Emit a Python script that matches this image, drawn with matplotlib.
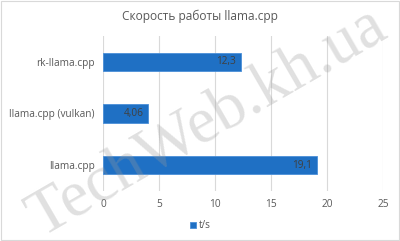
import matplotlib.pyplot as plt
from matplotlib.patches import Rectangle

# data (Excel draws the first category at the bottom)
categories = ["llama.cpp", "llama.cpp (vulkan)", "rk-llama.cpp"]
speeds = [19.1, 4.06, 12.3]
value_labels = ["19,1", "4,06", "12,3"]
x_ticks = [0, 5, 10, 15, 20, 25]

BLUE = "#1f70c4"
GREY = "#595959"

plt.rcParams["font.family"] = ["Open Sans", "DejaVu Sans"]

fig = plt.figure(figsize=(4.0, 2.41), dpi=100)
ax = fig.add_axes([103 / 400, 1 - 191 / 241, 280 / 400, 155 / 241])

bars = ax.barh(categories, speeds, height=0.36, color=BLUE,
               edgecolor="#4a8fd8", linewidth=0.6, zorder=2, label="t/s")
for bar, txt in zip(bars, value_labels):
    ax.text(bar.get_width() - 0.4, bar.get_y() + bar.get_height() / 2, txt,
            ha="right", va="center", fontsize=7.2, color="#404040", zorder=3)

ax.set_xlim(0, 25)
ax.set_ylim(-0.5, 2.5)
ax.set_xticks(x_ticks)
ax.xaxis.grid(True, color="#d9d9d9", linewidth=0.8, zorder=0)
ax.set_axisbelow(True)
for s in ax.spines.values():
    s.set_visible(False)
ax.tick_params(length=0, labelsize=7.3, colors=GREY, pad=6)

fig.text(0.5, 1 - 16 / 241, "Скорость работы llama.cpp", ha="center",
         va="center", fontsize=8.6, color=GREY)

fig.legend(handles=[bars], labels=["t/s"], loc="center",
           bbox_to_anchor=(0.5, 1 - 226 / 241), frameon=False, fontsize=7.2,
           handlelength=0.6, handleheight=0.6, handletextpad=0.3,
           labelcolor=GREY)

# watermark
fig.text(0.52, 0.49, "TechWeb.kh.ua", ha="center", va="center", rotation=30,
         fontsize=47, family="Liberation Serif", color="#9a9a9a", alpha=0.3,
         zorder=10)

# thin frame round the chart
fig.patches.append(Rectangle((0.002, 0.003), 0.995, 0.993, transform=fig.transFigure,
                             fill=False, edgecolor="#d9d9d9", linewidth=0.8))

fig.savefig("out.png", dpi=100)
